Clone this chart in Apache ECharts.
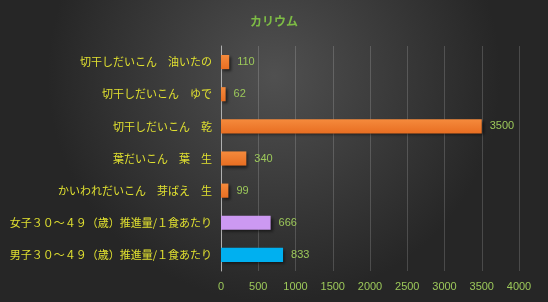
<!DOCTYPE html>
<html>
<head>
<meta charset="utf-8">
<script src="https://cdn.jsdelivr.net/npm/echarts@6/dist/echarts.min.js"></script>
<style>
  html, body { margin: 0; padding: 0; }
  #main { width: 548px; height: 302px; }
</style>
</head>
<body>
<div id="main"></div>
<script>
// データ
var categories = [
  '切干しだいこん　油いたの',
  '切干しだいこん　ゆで',
  '切干しだいこん　乾',
  '葉だいこん　葉　生',
  'かいわれだいこん　芽ばえ　生',
  '女子３０～４９（歳）推進量/１食あたり',
  '男子３０～４９（歳）推進量/１食あたり'
];
var values = [110, 62, 3500, 340, 99, 666, 833];
var xTicks = [0, 500, 1000, 1500, 2000, 2500, 3000, 3500, 4000];

// 色
var orange = new echarts.graphic.LinearGradient(0, 0, 0, 1, [
  { offset: 0, color: '#f58a3c' },
  { offset: 1, color: '#e86e22' }
]);
var barColors = [orange, orange, orange, orange, orange, '#cc99f2', '#00b0f0'];

var myChart = echarts.init(document.getElementById('main'));
myChart.setOption({
  backgroundColor: {
    type: 'radial', x: 0.5, y: 0.25, r: 0.75,
    colorStops: [
      { offset: 0, color: '#505050' },
      { offset: 1, color: '#262626' }
    ]
  },
  textStyle: { fontFamily: '"Noto Sans CJK JP", sans-serif' },
  title: {
    text: 'カリウム',
    left: 'center',
    top: 10,
    textStyle: { color: '#7dbb45', fontSize: 12, fontWeight: 'bold' }
  },
  grid: { left: 221, right: 29, top: 46, bottom: 31 },
  xAxis: {
    type: 'value',
    min: xTicks[0],
    max: xTicks[xTicks.length - 1],
    interval: 500,
    axisLine: { show: false },
    axisTick: { show: false },
    splitLine: { lineStyle: { color: 'rgba(255,255,255,0.17)', width: 1 } },
    axisLabel: {
      color: '#9cc85a', fontSize: 11, margin: 10,
      fontFamily: '"Liberation Sans", sans-serif',
      formatter: function (v) { return String(v); }
    }
  },
  yAxis: {
    type: 'category',
    inverse: true,
    data: categories,
    axisLine: { show: true, lineStyle: { color: '#b0b0b0', width: 1 } },
    axisTick: { show: false },
    axisLabel: { color: '#e0e030', fontSize: 11, margin: 9 }
  },
  series: [{
    type: 'bar',
    barWidth: '44%',
    data: values.map(function (v, i) {
      return { value: v, itemStyle: { color: barColors[i] } };
    }),
    itemStyle: {
      shadowColor: 'rgba(0,0,0,0.55)',
      shadowBlur: 3,
      shadowOffsetX: 2,
      shadowOffsetY: 2
    },
    label: {
      show: true,
      position: 'right',
      distance: 8,
      color: '#9cc85a',
      fontSize: 11,
      fontFamily: '"Liberation Sans", sans-serif'
    },
    animation: false
  }],
  animation: false
});
</script>
</body>
</html>
